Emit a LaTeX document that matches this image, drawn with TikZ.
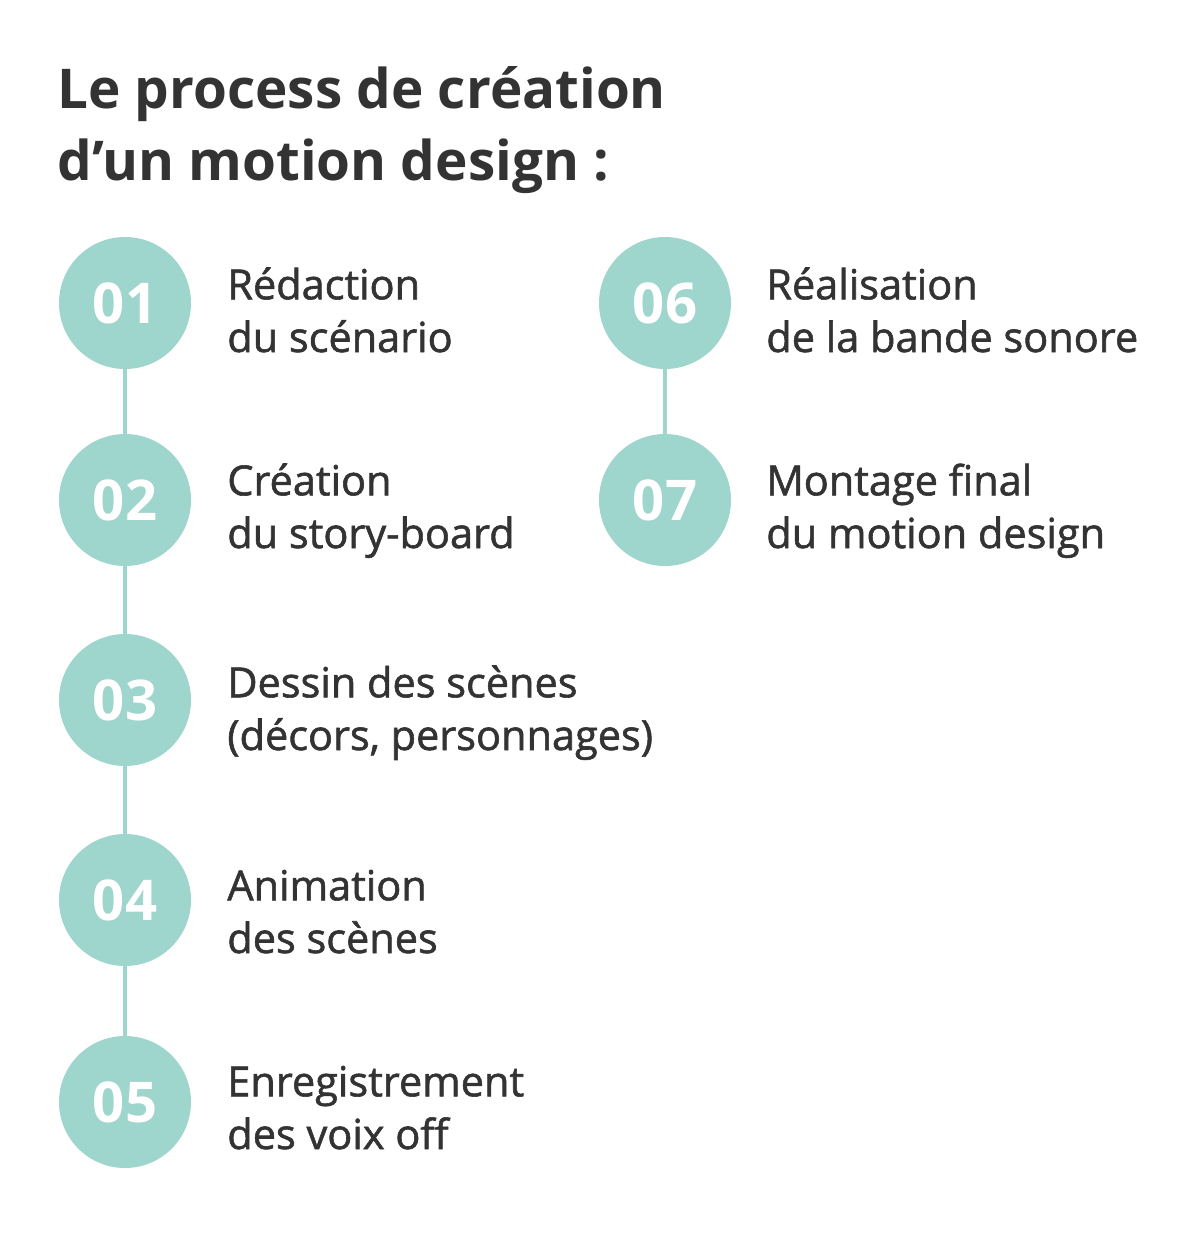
\documentclass[tikz,border=0pt]{standalone}
\usepackage{fontspec}
\setmainfont{Open Sans}
\newfontfamily\medfont[FakeBold=1.4]{Open Sans}
\usetikzlibrary{positioning}
\definecolor{teal}{HTML}{9ED5CC}
\definecolor{ink}{HTML}{333333}
\tikzset{
  step circle/.style={circle, fill=teal, minimum size=132*0.02cm, inner sep=0pt,
    text=white, font=\fontsize{32}{32}\selectfont\bfseries},
  step label/.style={anchor=base west, align=left, text=ink, inner sep=0pt,
    font=\fontsize{23.6}{30}\selectfont\medfont},
  title/.style={anchor=base west, inner sep=0pt, text=ink,
    font=\fontsize{31.2}{40}\selectfont\bfseries}
}
\begin{document}
\begin{tikzpicture}[x=0.02cm, y=-0.02cm]
  \useasboundingbox (0,0) rectangle (1201,1234);
  % Title
  \node[title] (title1) at (57,108) {Le process de création};
  \node[title] (title2) at (57,180) {d’un motion design :};

  % Left column
  \node[step circle] (c1) at (125,303) {01};
  \node[step circle] (c2) at (125,500) {02};
  \node[step circle] (c3) at (125,700) {03};
  \node[step circle] (c4) at (125,900) {04};
  \node[step circle] (c5) at (125,1102) {05};
  % Right column
  \node[step circle] (c6) at (665,303) {06};
  \node[step circle] (c7) at (665,500) {07};

  % Links
  \draw[draw=teal, line width=4*0.02cm] (c1) -- (c2);
  \draw[draw=teal, line width=4*0.02cm] (c2) -- (c3);
  \draw[draw=teal, line width=4*0.02cm] (c3) -- (c4);
  \draw[draw=teal, line width=4*0.02cm] (c4) -- (c5);
  \draw[draw=teal, line width=4*0.02cm] (c6) -- (c7);

  % Labels (base = second line)
  \node[step label] (l1) at (227,352) {Rédaction\\du scénario};
  \node[step label] (l2) at (227,548) {Création\\du story-board};
  \node[step label] (l3) at (227,750) {Dessin des scènes\\(décors, personnages)};
  \node[step label] (l4) at (227,953) {Animation\\des scènes};
  \node[step label] (l5) at (227,1149) {Enregistrement\\des voix off};
  \node[step label] (l6) at (766,352) {Réalisation\\de la bande sonore};
  \node[step label] (l7) at (766,548) {Montage final\\du motion design};
\end{tikzpicture}
\end{document}
